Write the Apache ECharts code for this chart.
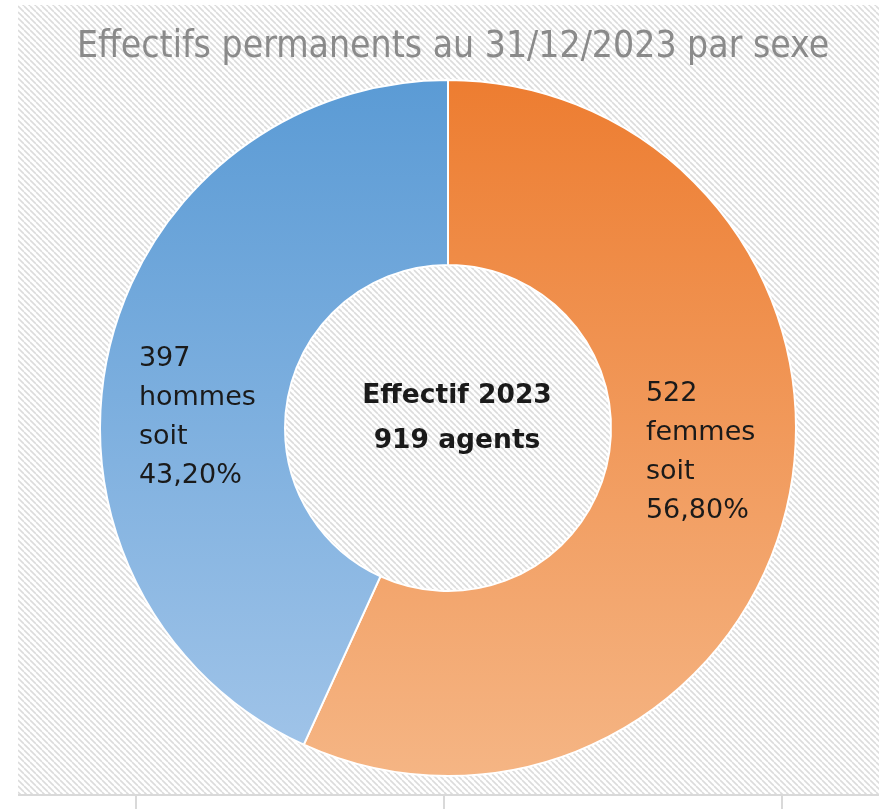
<!DOCTYPE html>
<html>
<head>
<meta charset="utf-8">
<style>
  html, body { margin: 0; padding: 0; background: #ffffff; }
  #myChart { width: 879px; height: 809px; }
</style>
<script src="https://cdn.jsdelivr.net/npm/echarts@6/dist/echarts.min.js"></script>
</head>
<body>
<div id="myChart"></div>
<script>
// data
const titleText = 'Effectifs permanents au 31/12/2023 par sexe'
const centerLines = ['Effectif 2023', '919 agents']
const categories = ['femmes', 'hommes']
const values = [522, 397]
// top -> bottom gradient colours per slice
const topColors = ['#ED7D31', '#5B9BD5']
const bottomColors = ['#F5B584', '#A2C5E9']
// label nudges (x, y) per slice
const labelOffsets = [[0, -30], [2, 44]]

const titleFont = "'DejaVu Sans Condensed', 'Liberation Sans Narrow', 'Liberation Sans', sans-serif"
const titleWidth = 760

// diagonal hatch for the plot area
function makeHatch () {
  let c = document.createElement('canvas')
  c.width = 6
  c.height = 6
  let ctx = c.getContext('2d')
  ctx.fillStyle = '#ffffff'
  ctx.fillRect(0, 0, 6, 6)
  ctx.strokeStyle = '#dcdcdc'
  ctx.lineWidth = 1.6
  for (let k = -6; k <= 6; k += 6) {
    ctx.beginPath()
    ctx.moveTo(k, 0)
    ctx.lineTo(k + 6, 6)
    ctx.stroke()
  }
  return c
}

// size the title so that it spans the same width as in the picture
function fitTitleSize () {
  let ctx = document.createElement('canvas').getContext('2d')
  ctx.font = '100px ' + titleFont
  let w = ctx.measureText(titleText).width
  return Math.min(38, Math.floor(100 * titleWidth / w))
}

let total = values.reduce((a, b) => a + b, 0)

let pieData = categories.map((name, i) => ({
  name: name,
  value: values[i],
  itemStyle: {
    color: {
      type: 'linear', x: 0, y: 80, x2: 0, y2: 776, global: true,
      colorStops: [{offset: 0, color: topColors[i]}, {offset: 1, color: bottomColors[i]}]
    }
  },
  label: {offset: labelOffsets[i]}
}))

let myChart = echarts.init(document.getElementById('myChart'), null, {renderer: 'canvas'})

let options = {
  animation: false,
  backgroundColor: '#ffffff',
  title: [
    {
      text: titleText,
      left: 448,
      top: 24,
      textAlign: 'center',
      textStyle: {
        fontFamily: titleFont,
        fontWeight: 'normal',
        fontSize: fitTitleSize(),
        color: '#8a8a8a'
      }
    },
    {
      text: centerLines.join('\n'),
      left: 452,
      top: 369,
      textAlign: 'center',
      textStyle: {
        fontFamily: 'DejaVu Sans',
        fontWeight: 'bold',
        fontSize: 26.5,
        lineHeight: 45,
        color: '#1a1a1a'
      }
    }
  ],
  graphic: [
    {
      type: 'rect',
      z: -10,
      silent: true,
      shape: {x: 18, y: 5, width: 861, height: 789},
      style: {fill: {image: makeHatch(), repeat: 'repeat'}}
    },
    {
      type: 'line', silent: true,
      shape: {x1: 18, y1: 795, x2: 879, y2: 795},
      style: {stroke: '#d9d9d9', lineWidth: 2}
    },
    {
      type: 'line', silent: true,
      shape: {x1: 136, y1: 796, x2: 136, y2: 809},
      style: {stroke: '#d9d9d9', lineWidth: 2}
    },
    {
      type: 'line', silent: true,
      shape: {x1: 444, y1: 796, x2: 444, y2: 809},
      style: {stroke: '#d9d9d9', lineWidth: 2}
    },
    {
      type: 'line', silent: true,
      shape: {x1: 782, y1: 796, x2: 782, y2: 809},
      style: {stroke: '#d9d9d9', lineWidth: 2}
    }
  ],
  series: [
    {
      type: 'pie',
      center: [448, 428],
      radius: [163, 348],
      startAngle: 90,
      clockwise: true,
      emphasis: {disabled: true},
      itemStyle: {borderColor: '#ffffff', borderWidth: 2},
      label: {
        show: true,
        position: 'inside',
        fontFamily: 'DejaVu Sans',
        fontSize: 27,
        lineHeight: 39,
        color: '#1a1a1a',
        formatter: function (params) {
          let pct = (params.value / total * 100).toFixed(2).replace('.', ',')
          let lines = [params.value, params.name, 'soit', pct + '%']
          return lines.map(s => '{l|' + s + '}').join('\n')
        },
        rich: {
          l: {
            align: 'left',
            fontFamily: 'DejaVu Sans',
            fontSize: 27,
            lineHeight: 39,
            color: '#1a1a1a'
          }
        }
      },
      labelLine: {show: false},
      data: pieData
    }
  ]
}

myChart.setOption(options)
</script>
</body>
</html>
